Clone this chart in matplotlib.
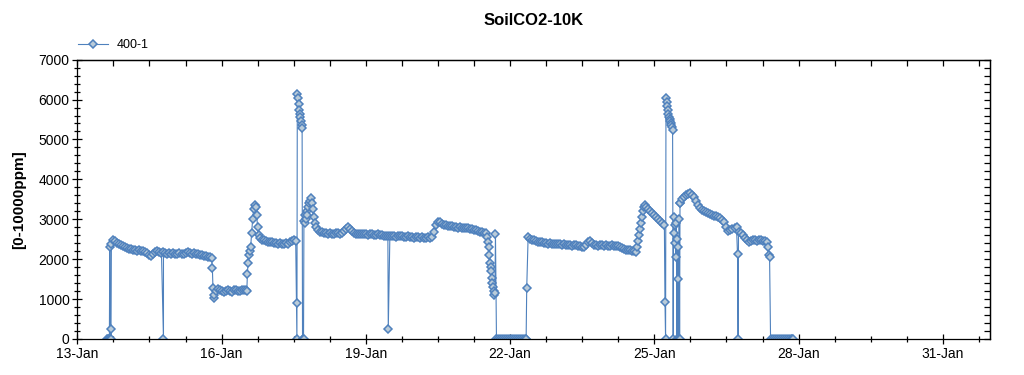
import pandas as pd
import numpy as np
import matplotlib
matplotlib.use("Agg")
import matplotlib.pyplot as plt
import matplotlib.dates as mdates
from matplotlib.ticker import MultipleLocator, FixedLocator, NullFormatter

plt.rcParams['font.family'] = ['Liberation Sans', 'DejaVu Sans']

# sensor 400-1, readings as (hours after 13-Jan 00:00, ppm)
t0 = pd.Timestamp('2015-01-13 00:00')

# hourly readings, blocks: (first hour, values)
blk1_start = 17
blk1 = [2380, 2480, 2450, 2410, 2380, 2350, 2320, 2300, 2280, 2260, 2250, 2230, 2220, 2210,
        2220, 2200, 2210, 2190, 2160, 2110, 2090, 2130, 2170, 2200, 2180, 2160, 2170, 2150,
        2140, 2160, 2130, 2150, 2140, 2130, 2150, 2140, 2120, 2150, 2170, 2160, 2140, 2150,
        2130, 2120, 2110, 2100, 2090, 2080, 2060, 2050, 2020]
blk2_start = 69
blk2 = [1200, 1250, 1230, 1200, 1180, 1210, 1240, 1200, 1190, 1220, 1230, 1210, 1200, 1230,
        1240, 1220]
blk3_start = 92
blk3 = [2480, 2470, 2450, 2440, 2430, 2420, 2410, 2400, 2390, 2400, 2380, 2390, 2400, 2380,
        2420, 2450, 2470, 2450]
blk4_start = 121
blk4 = [2690, 2670, 2660, 2650, 2640, 2650, 2640, 2630, 2650, 2660, 2640, 2650, 2700, 2760,
        2810, 2760, 2700, 2660, 2640, 2630, 2620, 2640, 2630, 2620, 2610, 2630, 2620, 2600,
        2610, 2620, 2600]
blk5_start = 152
blk5 = [2600, 2590, 2580, 2570, 2590, 2580, 2570, 2560, 2580, 2590, 2570, 2560, 2550, 2570,
        2560, 2550, 2540, 2560, 2550, 2540, 2550, 2530, 2540, 2550, 2530, 2560, 2680, 2850,
        2940, 2920, 2880, 2860, 2850, 2840, 2830, 2820, 2810, 2800, 2790, 2800, 2780, 2790,
        2770, 2780, 2760, 2750, 2730, 2720, 2700, 2690, 2680, 2660, 2650]
blk6_start = 210
blk6 = [0, 0, 0, 0, 0, 0, 0, 0, 0, 0, 0, 0, 0, 0, 0]
blk7_start = 225
blk7 = [2560, 2500, 2480, 2470, 2450, 2440, 2420, 2430, 2410, 2400, 2390, 2400, 2380, 2390,
        2380, 2370, 2380, 2360, 2370, 2350, 2360, 2350, 2340, 2360, 2350, 2340, 2330, 2300,
        2310, 2350, 2420, 2460, 2400, 2360, 2350, 2340, 2360, 2350, 2340, 2350, 2330, 2340,
        2350, 2330, 2340, 2320, 2300, 2280, 2260, 2240, 2230, 2220, 2200, 2200, 2190]
blk8_start = 284
blk8 = [3300, 3250, 3200, 3150, 3100, 3050, 3000, 2950, 2900, 2860]
blk9_start = 301
blk9 = [3420, 3500, 3560, 3600, 3630, 3650, 3620, 3550, 3450, 3350, 3280, 3230, 3200, 3180,
        3160, 3140, 3110, 3090, 3070, 3050, 3020, 2980, 2940, 2800, 2700, 2720, 2760, 2790,
        2810, 2680, 2650, 2600, 2540, 2480, 2440, 2450, 2470, 2480, 2460, 2480, 2470, 2460,
        2450, 2440]
blk10_start = 347
blk10 = [0, 0, 0, 0, 0, 0, 0, 0, 0, 0, 0]

# irregular readings (spikes, dropouts, fast changes)
ev_hours = [14.7, 15.2, 15.7, 16.0, 16.2, 16.4, 16.6, 16.8, 43.0,
            67.4, 67.7, 68.0, 68.4,
            84.6, 84.9, 85.2, 85.6, 86.0, 86.5, 87.0, 87.5, 88.0, 88.5, 89.0, 89.5, 90.0, 90.5, 91.0,
            109.4, 109.6, 109.8, 110.1, 110.4, 110.7, 111.0, 111.3, 111.6, 111.9, 112.2, 112.4,
            112.7, 112.9, 113.1, 113.4, 113.7, 114.0, 114.4, 114.8, 115.2, 115.6, 116.0, 116.5,
            117.0, 117.5, 118.0, 118.5, 119.0, 120.0,
            155.2,
            204.6, 205.0, 205.4, 205.7, 206.0, 206.3, 206.6, 206.9, 207.2, 207.5, 207.8, 208.1,
            208.4, 208.7, 209.2, 224.0, 224.3,
            279.5, 280.0, 280.5, 281.0, 281.5, 282.0, 282.5, 283.0, 283.5,
            293.3, 293.6, 293.8, 294.1, 294.4, 294.7, 295.0, 295.3, 295.6, 295.9, 296.2, 296.5,
            296.8, 297.1, 297.4, 297.6, 297.9, 298.2, 298.5, 298.8, 299.0, 299.2, 299.4, 299.6,
            299.8, 300.0, 300.2, 300.4, 300.6, 300.8,
            329.5, 329.8, 344.5, 345.0, 345.5, 346.0, 356.9]
ev_ppm = [0, 0, 0, 0, 2300, 0, 240, 0, 0,
          1790, 1280, 1030, 1100,
          1210, 1630, 1910, 2100, 2200, 2300, 2650, 3000, 3250, 3360, 3300, 3100, 2800, 2600, 2520,
          895, 0, 6150, 6050, 5900, 5750, 5650, 5550, 5450, 5350, 5280, 0,
          0, 0, 2950, 2900, 3100, 3000, 3200, 3100, 3300, 3400, 3450, 3530,
          3400, 3250, 3050, 2900, 2800, 2720,
          243,
          2560, 2440, 2300, 2100, 1900, 1800, 1700, 1530, 1400, 1300, 1200, 1100,
          1150, 2620, 0, 0, 1280,
          2300, 2450, 2600, 2750, 2900, 3050, 3200, 3300, 3360,
          935, 0, 6030, 5950, 5850, 5750, 5650, 5550, 5500, 5450, 5400, 5350,
          5300, 5240, 0, 3060, 2650, 2850, 2400, 2060, 2900, 0, 2500, 1500,
          0, 2300, 0, 3000, 0, 3400,
          2120, 0, 2310, 2100, 2060, 0, 0]

blocks = [(blk1_start, blk1), (blk2_start, blk2), (blk3_start, blk3), (blk4_start, blk4),
          (blk5_start, blk5), (blk6_start, blk6), (blk7_start, blk7), (blk8_start, blk8),
          (blk9_start, blk9), (blk10_start, blk10)]

hours = list(ev_hours)
ppm = list(ev_ppm)
for start, vals in blocks:
    hours += [start + i for i in range(len(vals))]
    ppm += vals

df = pd.DataFrame({'h': hours, 'ppm': ppm}).sort_values('h')
df['time'] = t0 + pd.to_timedelta(df['h'], unit='h')

blue = '#4f81bd'
fill = '#b9cbd9'

fig = plt.figure(figsize=(10.24, 3.75), dpi=100)
ax = fig.add_axes([0.0755, 0.096, 0.8913, 0.745])

ax.plot(df['time'], df['ppm'], color=blue, lw=0.8, marker='D', markersize=4.4,
        markerfacecolor=fill, markeredgecolor=blue, markeredgewidth=1.1, label='400-1')

ax.set_xlim(t0, t0 + pd.Timedelta(days=18.98))
ax.set_ylim(0, 7000)

major_x = mdates.DayLocator(bymonthday=[13, 16, 19, 22, 25, 28, 31])
minor_ticks = pd.date_range(t0, t0 + pd.Timedelta(days=19), freq='18h')
minor_x = FixedLocator(mdates.date2num(minor_ticks))

ax.yaxis.set_major_locator(MultipleLocator(1000))
ax.yaxis.set_minor_locator(MultipleLocator(200))
ax.xaxis.set_major_locator(major_x)
ax.xaxis.set_major_formatter(mdates.DateFormatter('%d-%b'))
ax.xaxis.set_minor_locator(minor_x)

for s in ax.spines.values():
    s.set_linewidth(0.9)
ax.tick_params(axis='both', which='major', labelsize=10, direction='inout', length=7, width=0.9)
ax.tick_params(axis='both', which='minor', direction='inout', length=4, width=0.9)
ax.tick_params(axis='x', which='major', pad=2)
ax.tick_params(axis='y', which='major', pad=2)

# top and right: inward ticks only
top = ax.secondary_xaxis('top')
top.xaxis.set_major_locator(mdates.DayLocator(bymonthday=[13, 16, 19, 22, 25, 28, 31]))
top.xaxis.set_minor_locator(FixedLocator(mdates.date2num(minor_ticks)))
top.xaxis.set_major_formatter(NullFormatter())
top.tick_params(which='both', direction='in', length=4, width=0.9)
top.spines['top'].set_linewidth(0.9)

right = ax.secondary_yaxis('right')
right.yaxis.set_major_locator(MultipleLocator(1000))
right.yaxis.set_minor_locator(MultipleLocator(200))
right.yaxis.set_major_formatter(NullFormatter())
right.tick_params(which='both', direction='in', length=4, width=0.9)
right.spines['right'].set_linewidth(0.9)

ax.set_ylabel('[0-10000ppm]', fontsize=11, fontweight='bold')
ax.yaxis.set_label_coords(-0.056, 0.5)
fig.text(0.521, 0.945, 'SoilCO2-10K', fontsize=12, fontweight='bold', ha='center', va='center')

ax.legend(loc='lower left', bbox_to_anchor=(-0.009, 1.0), frameon=False, fontsize=9,
          handlelength=2.4, handletextpad=0.7, borderaxespad=0.3)

fig.savefig('out.png', dpi=100)
